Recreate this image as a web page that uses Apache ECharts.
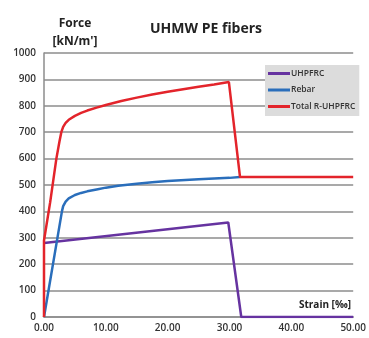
<!DOCTYPE html>
<html>
<head>
<meta charset="utf-8">
<script src="https://cdn.jsdelivr.net/npm/echarts@6/dist/echarts.min.js"></script>
<style>html,body{margin:0;padding:0;background:#fff}#c{width:369px;height:338px}</style>
</head>
<body>
<div id="c"></div>
<script>
// Data (strain ‰, force kN/m')
var uhpfrc = [[0,280],[29.8,358],[31.9,0],[50,0]];
var rebar = [[0,0],[2.9,400],[3.1,420],[3.5,437],[4,449],[5,462],[6,470],[7,476],[8.5,483],[10,490],[12,497],[15,505],[17.5,510],[20,515],[25,522],[30,527],[31.7,530]];
var total = [[0,0],[0,290],[1,435],[2,600],[2.5,665],[2.8,700],[3.1,720],[3.5,735],[4,747],[5,762],[6,773],[7,782],[8.5,793],[10,803],[12.5,818],[15,831],[17.5,843],[20,853],[22.5,863],[25,872],[27.5,881],[29.9,890],[31.7,530],[50,530]];
var seriesNames = ['UHPFRC','Rebar','Total R-UHPFRC'];

var font = 'Open Sans';
var chart = echarts.init(document.getElementById('c'));
chart.setOption({
  backgroundColor: '#fff',
  animation: false,
  title: [
    {text: 'UHMW PE fibers', left: 201, top: 17, textAlign: 'center',
     textStyle: {fontFamily: font, fontWeight: 'bold', fontSize: 14, color: '#222'}},
    {text: "Force\n[kN/m']", left: 70, top: 10, textAlign: 'center',
     textStyle: {fontFamily: font, fontWeight: 'bold', fontSize: 12, color: '#222', lineHeight: 18}},
    {text: 'Strain [‰]', left: 320, top: 295, textAlign: 'center',
     textStyle: {fontFamily: font, fontWeight: 'bold', fontSize: 10, color: '#222'}}
  ],
  legend: {
    orient: 'vertical', left: 265, top: 65,
    backgroundColor: '#dcdcdc',
    padding: [4, 4, 5, 3],
    itemGap: 7.5, itemWidth: 22, itemHeight: 3,
    icon: 'rect',
    textStyle: {fontFamily: font, fontSize: 8.5, fontWeight: 600, color: '#333', padding: [0,0,0,-4]},
    data: seriesNames
  },
  grid: {left: 44, right: 11, top: 53, bottom: 21, containLabel: false},
  xAxis: {
    type: 'value', min: 0, max: 50, interval: 10,
    axisLine: {show: true, lineStyle: {color: '#8c8c8c', width: 1.5}},
    axisTick: {show: false},
    splitLine: {show: false},
    axisLabel: {fontFamily: font, fontSize: 10, fontWeight: 600, color: '#333', margin: 6,
      formatter: function(v){ return v.toFixed(2); }}
  },
  yAxis: {
    type: 'value', min: 0, max: 1000, interval: 100,
    axisLine: {show: true, lineStyle: {color: '#8c8c8c', width: 1.5}},
    axisTick: {show: false},
    splitLine: {show: true, lineStyle: {color: '#8c8c8c', width: 1.5}},
    axisLabel: {fontFamily: font, fontSize: 10, fontWeight: 600, color: '#333', margin: 8,
      formatter: function(v){ return String(v); }}
  },
  series: [
    {name: seriesNames[0], type: 'line', data: uhpfrc, showSymbol: false, symbol: 'none',
     lineStyle: {color: '#6633a0', width: 2.5}, itemStyle: {color: '#6633a0'}, z: 3},
    {name: seriesNames[1], type: 'line', data: rebar, showSymbol: false, symbol: 'none',
     lineStyle: {color: '#2a6ebb', width: 2.5}, itemStyle: {color: '#2a6ebb'}, z: 4},
    {name: seriesNames[2], type: 'line', data: total, showSymbol: false, symbol: 'none',
     lineStyle: {color: '#e3242b', width: 2.5}, itemStyle: {color: '#e3242b'}, z: 5}
  ]
});
</script>
</body>
</html>
